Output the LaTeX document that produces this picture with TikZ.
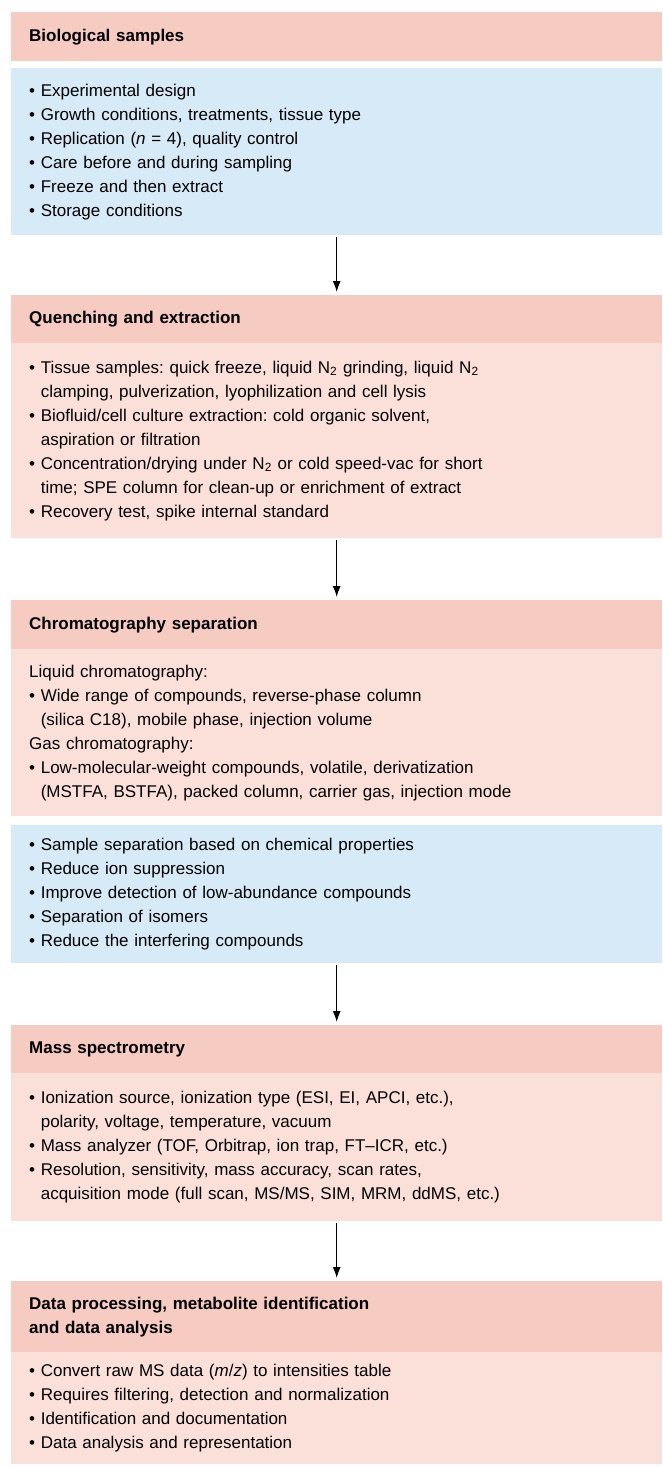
\documentclass[tikz,border=0pt]{standalone}
\usepackage{fontspec}
\setmainfont{Liberation Sans}
\usetikzlibrary{arrows.meta}

\definecolor{hdrpink}{RGB}{246,203,194}
\definecolor{lightpink}{RGB}{251,224,218}
\definecolor{lightblue}{RGB}{215,234,248}

\newcommand{\bul}{\textbullet\ }
\newcommand{\ind}{\hphantom{\textbullet\ }}
\frenchspacing

\begin{document}
\begin{tikzpicture}[
    x=1pt, y=1pt,
    >={Latex[length=11pt,width=8pt]},
    panel/.style={
        anchor=north west,
        inner xsep=18pt,
        inner ysep=0pt,
        text width=615pt,
        minimum width=651pt,
        align=left,
        font={\fontsize{17}{24}\selectfont}
    },
    hdr/.style={
        panel,
        fill=hdrpink,
        font={\fontsize{17}{24}\selectfont\bfseries}
    },
    pinkbox/.style={
        panel,
        fill=lightpink
    },
    bluebox/.style={
        panel,
        fill=lightblue
    },
    arrow/.style={
        ->,
        line width=1.2pt,
        draw=black,
        shorten <=2pt,
        shorten >=3pt
    }
]
    \useasboundingbox (0,0) rectangle (662,-1467);

    % biological samples
    \node[hdr, minimum height=49] (hdA) at (11,-12) {Biological samples};
    \node[bluebox, minimum height=167] (blueA) at (11,-68) {%
        \bul Experimental design\\
        \bul Growth conditions, treatments, tissue type\\
        \bul Replication (\textit{n} = 4), quality control\\
        \bul Care before and during sampling\\
        \bul Freeze and then extract\\
        \bul Storage conditions};

    % quenching
    \node[hdr, minimum height=48] (hdB) at (11,-295) {Quenching and extraction};
    \node[pinkbox, minimum height=195] (bodyB) at (11,-343) {%
        \bul Tissue samples: quick freeze, liquid N\textsubscript{2} grinding, liquid N\textsubscript{2}\\
        \ind clamping, pulverization, lyophilization and cell lysis\\
        \bul Biofluid/cell culture extraction: cold organic solvent,\\
        \ind aspiration or filtration\\
        \bul Concentration/drying under N\textsubscript{2} or cold speed-vac for short\\
        \ind time; SPE column for clean-up or enrichment of extract\\
        \bul Recovery test, spike internal standard};

    % chromatography
    \node[hdr, minimum height=49] (hdC) at (11,-600) {Chromatography separation};
    \node[pinkbox, minimum height=167] (bodyC) at (11,-649) {%
        Liquid chromatography:\\
        \bul Wide range of compounds, reverse-phase column\\
        \ind (silica C18), mobile phase, injection volume\\
        Gas chromatography:\\
        \bul Low-molecular-weight compounds, volatile, derivatization\\
        \ind (MSTFA, BSTFA), packed column, carrier gas, injection mode};
    \node[bluebox, minimum height=138] (blueC) at (11,-825) {%
        \bul Sample separation based on chemical properties\\
        \bul Reduce ion suppression\\
        \bul Improve detection of low-abundance compounds\\
        \bul Separation of isomers\\
        \bul Reduce the interfering compounds};

    % mass spec
    \node[hdr, minimum height=48] (hdD) at (11,-1025) {Mass spectrometry};
    \node[pinkbox, minimum height=148] (bodyD) at (11,-1073) {%
        \bul Ionization source, ionization type (ESI, EI, APCI, etc.),\\
        \ind polarity, voltage, temperature, vacuum\\
        \bul Mass analyzer (TOF, Orbitrap, ion trap, FT--ICR, etc.)\\
        \bul Resolution, sensitivity, mass accuracy, scan rates,\\
        \ind acquisition mode (full scan, MS/MS, SIM, MRM, ddMS, etc.)};

    % data processing
    \node[hdr, minimum height=71] (hdE) at (11,-1281)
        {Data processing, metabolite identification\\and data analysis};
    \node[pinkbox, minimum height=112] (bodyE) at (11,-1352) {%
        \bul Convert raw MS data (\textit{m}/\textit{z}) to intensities table\\
        \bul Requires filtering, detection and normalization\\
        \bul Identification and documentation\\
        \bul Data analysis and representation};

    \foreach \a/\b in {blueA/hdB, bodyB/hdC, blueC/hdD, bodyD/hdE}{
        \draw[arrow] (\a) -- (\b);
    }

\end{tikzpicture}
\end{document}
